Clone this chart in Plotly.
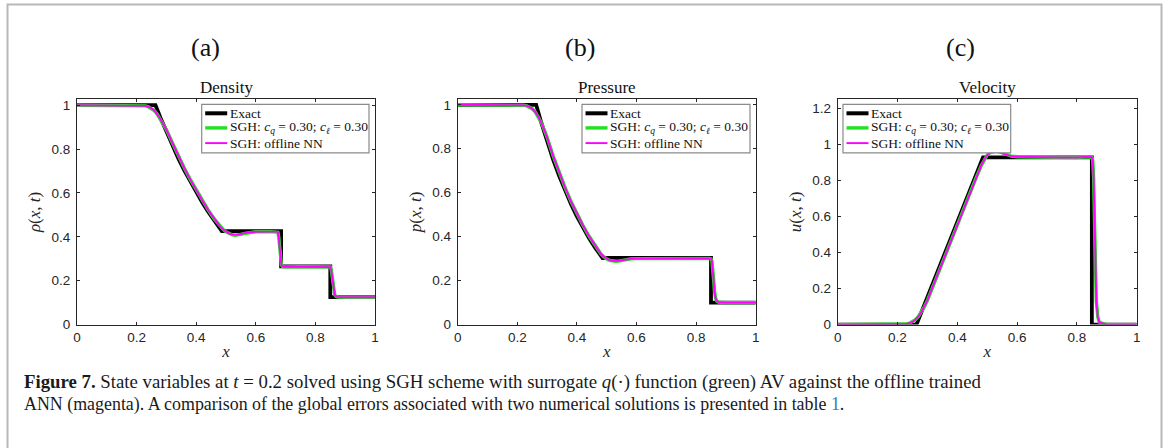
import plotly.graph_objects as go

W, H = 1170, 448

# ---------------- data ----------------
# Exact Riemann solution (Sod tube, t = 0.2)
x_exact = [0.0, 0.2634, 0.28, 0.30, 0.32, 0.34, 0.36, 0.38, 0.40, 0.42, 0.44,
           0.46, 0.48, 0.486, 0.685, 0.685, 0.850, 0.850, 1.0]
rho_exact = [1.0, 1.0, 0.9428, 0.8774, 0.8158, 0.7577, 0.7030, 0.6514, 0.6029,
             0.5574, 0.5146, 0.4746, 0.4370, 0.4263, 0.4263, 0.2656, 0.2656,
             0.125, 0.125]
p_exact = [1.0, 1.0, 0.9208, 0.8327, 0.7521, 0.6781, 0.6105, 0.5488, 0.4925,
           0.4412, 0.3945, 0.3522, 0.3138, 0.3031, 0.3031, 0.3031, 0.3031,
           0.1, 0.1]
u_exact = [0.0, 0.0, 0.0692, 0.1526, 0.2360, 0.3193, 0.4027, 0.4860, 0.5693,
           0.6527, 0.7360, 0.8193, 0.9027, 0.9275, 0.9275, 0.9275, 0.9275,
           0.0, 0.0]

# Numerical solutions on the SGH mesh
x_num = [0.0, 0.10, 0.20, 0.21, 0.22, 0.23, 0.24, 0.25, 0.26, 0.27, 0.28, 0.29,
         0.30, 0.32, 0.34, 0.36, 0.38, 0.40, 0.42, 0.44, 0.46, 0.48, 0.49, 0.50,
         0.51, 0.52, 0.53, 0.54, 0.55, 0.56, 0.58, 0.60, 0.65, 0.670, 0.674,
         0.677, 0.680, 0.683, 0.686, 0.690, 0.70, 0.75, 0.80, 0.835, 0.845,
         0.850, 0.853, 0.856, 0.859, 0.862, 0.865, 0.870, 0.875, 0.90, 1.0]

rho_sgh = [1.000, 1.000, 1.000, 0.999, 0.999, 0.997, 0.993, 0.986, 0.975, 0.958,
           0.937, 0.913, 0.888, 0.829, 0.770, 0.714, 0.662, 0.613, 0.567, 0.523,
           0.483, 0.447, 0.434, 0.423, 0.415, 0.410, 0.407, 0.408, 0.411, 0.415,
           0.420, 0.423, 0.424, 0.424, 0.421, 0.400, 0.352, 0.300, 0.272, 0.264,
           0.263, 0.264, 0.264, 0.265, 0.265, 0.263, 0.252, 0.220, 0.180, 0.149,
           0.136, 0.128, 0.126, 0.125, 0.125]
rho_nn = [1.000, 1.000, 1.000, 0.999, 0.999, 0.997, 0.993, 0.986, 0.975, 0.958,
          0.937, 0.913, 0.888, 0.829, 0.770, 0.714, 0.662, 0.613, 0.567, 0.523,
          0.483, 0.447, 0.434, 0.424, 0.416, 0.411, 0.409, 0.410, 0.413, 0.417,
          0.421, 0.423, 0.424, 0.424, 0.420, 0.398, 0.350, 0.298, 0.271, 0.264,
          0.263, 0.264, 0.264, 0.265, 0.265, 0.262, 0.250, 0.218, 0.178, 0.148,
          0.135, 0.128, 0.126, 0.125, 0.125]

p_sgh = [1.000, 1.000, 1.000, 0.999, 0.998, 0.996, 0.991, 0.982, 0.968, 0.947,
         0.921, 0.887, 0.852, 0.769, 0.693, 0.624, 0.561, 0.504, 0.452, 0.404,
         0.361, 0.323, 0.309, 0.298, 0.292, 0.289, 0.288, 0.289, 0.292, 0.295,
         0.299, 0.300, 0.301, 0.301, 0.301, 0.301, 0.301, 0.301, 0.301, 0.301,
         0.301, 0.301, 0.301, 0.301, 0.301, 0.299, 0.291, 0.258, 0.203, 0.152,
         0.122, 0.106, 0.102, 0.100, 0.100]
p_nn = [1.000, 1.000, 1.000, 0.999, 0.998, 0.996, 0.991, 0.982, 0.968, 0.947,
        0.921, 0.887, 0.852, 0.769, 0.693, 0.624, 0.561, 0.504, 0.452, 0.404,
        0.361, 0.323, 0.309, 0.299, 0.293, 0.290, 0.289, 0.290, 0.293, 0.296,
        0.299, 0.300, 0.301, 0.301, 0.301, 0.301, 0.301, 0.301, 0.301, 0.301,
        0.301, 0.301, 0.301, 0.301, 0.301, 0.299, 0.290, 0.255, 0.200, 0.150,
        0.121, 0.106, 0.102, 0.100, 0.100]

u_sgh = [0.000, 0.000, 0.000, 0.001, 0.002, 0.004, 0.008, 0.015, 0.027, 0.045,
         0.070, 0.100, 0.134, 0.219, 0.303, 0.386, 0.469, 0.553, 0.636, 0.719,
         0.803, 0.882, 0.916, 0.941, 0.955, 0.961, 0.962, 0.959, 0.952, 0.945,
         0.935, 0.931, 0.929, 0.928, 0.928, 0.928, 0.928, 0.928, 0.928, 0.928,
         0.928, 0.927, 0.927, 0.931, 0.931, 0.928, 0.912, 0.815, 0.570, 0.300,
         0.130, 0.042, 0.013, 0.000, 0.000]
u_nn = [0.000, 0.000, 0.000, 0.001, 0.002, 0.004, 0.008, 0.015, 0.027, 0.045,
        0.070, 0.100, 0.134, 0.219, 0.303, 0.386, 0.469, 0.553, 0.636, 0.719,
        0.803, 0.882, 0.916, 0.940, 0.954, 0.960, 0.961, 0.958, 0.951, 0.944,
        0.935, 0.931, 0.929, 0.928, 0.928, 0.928, 0.928, 0.928, 0.928, 0.928,
        0.928, 0.927, 0.927, 0.931, 0.931, 0.928, 0.910, 0.810, 0.560, 0.290,
        0.125, 0.040, 0.012, 0.000, 0.000]

series_names = ["Exact",
                "SGH: <i>c</i><sub><i>q</i></sub> = 0.30; <i>c</i><sub><i>ℓ</i></sub> = 0.30",
                "SGH: offline NN"]
panel_letters = ["(a)", "(b)", "(c)"]
panel_titles = ["Density", "Pressure", "Velocity"]
y_titles = ["<i>ρ</i>(<i>x</i>, <i>t</i>)", "<i>p</i>(<i>x</i>, <i>t</i>)",
            "<i>u</i>(<i>x</i>, <i>t</i>)"]
x_ticks = [0, 0.2, 0.4, 0.6, 0.8, 1.0]
x_ticklabels = ["0", "0.2", "0.4", "0.6", "0.8", "1"]
y_ticks_ab = [0, 0.2, 0.4, 0.6, 0.8, 1.0]
y_ticklabels_ab = ["0", "0.2", "0.4", "0.6", "0.8", "1"]
y_ticks_c = [0, 0.2, 0.4, 0.6, 0.8, 1.0, 1.2]
y_ticklabels_c = ["0", "0.2", "0.4", "0.6", "0.8", "1", "1.2"]

caption_lines = [
    "<b>Figure 7.</b> State variables at <i>t</i> = 0.2 solved using SGH scheme with "
    "surrogate <i>q</i>(·) function (green) AV against the offline trained",
    "ANN (magenta). A comparison of the global errors associated with two numerical "
    "solutions is presented in table <span style='color:#2f7fc1'>1</span>.",
]

# ---------------- styling ----------------
C_EXACT, C_SGH, C_NN = "#000000", "#22e022", "#ff00ff"
W_EXACT, W_SGH, W_NN = 3.8, 3.4, 1.9
SERIF = "Liberation Serif"
SANS = "Liberation Sans"
AX_COL = "#262626"


def fx(px):
    return px / W


def fy(py):
    return 1 - py / H


# pixel boxes of the three axes (left, right)
ax_lr = [(77, 375), (457.7, 755.7), (837.7, 1136.7)]
ax_top, ax_bot = 99.3, 324.6
y_ranges = [[0, 1.027], [0, 1.025], [0, 1.25]]
legend_boxes = [(201.7, 369.0), (582.0, 750.0), (843.0, 1010.7)]
letter_x = [205, 580, 960]

data_sets = [
    (rho_exact, rho_sgh, rho_nn),
    (p_exact, p_sgh, p_nn),
    (u_exact, u_sgh, u_nn),
]

fig = go.Figure()
layout = dict(
    width=W, height=H,
    margin=dict(l=0, r=0, t=0, b=0),
    paper_bgcolor="white", plot_bgcolor="white",
    showlegend=False,
    shapes=[], annotations=[],
)

for i in range(3):
    sfx = "" if i == 0 else str(i + 1)
    xa, ya = "x" + sfx, "y" + sfx
    ex, sg, nn = data_sets[i]
    fig.add_trace(go.Scatter(x=x_exact, y=ex, mode="lines", name=series_names[0],
                             line=dict(color=C_EXACT, width=W_EXACT),
                             xaxis=xa, yaxis=ya))
    fig.add_trace(go.Scatter(x=x_num, y=sg, mode="lines", name=series_names[1],
                             line=dict(color=C_SGH, width=W_SGH),
                             xaxis=xa, yaxis=ya))
    fig.add_trace(go.Scatter(x=x_num, y=nn, mode="lines", name=series_names[2],
                             line=dict(color=C_NN, width=W_NN),
                             xaxis=xa, yaxis=ya))

    l, r = ax_lr[i]
    common = dict(
        showline=True, linecolor=AX_COL, linewidth=1, mirror="allticks",
        ticks="inside", ticklen=3, tickwidth=1, tickcolor=AX_COL,
        showgrid=False, zeroline=False,
        tickfont=dict(family=SANS, size=13.5, color=AX_COL),
        automargin=False,
    )
    layout["xaxis" + sfx] = dict(
        common, domain=[fx(l), fx(r)], range=[0, 1], anchor=ya,
        tickvals=x_ticks, ticktext=x_ticklabels, ticklabelstandoff=0,
        title=dict(text="<i>x</i>", font=dict(family=SERIF, size=17, color=AX_COL),
                   standoff=1),
    )
    yt = y_ticks_c if i == 2 else y_ticks_ab
    ytl = y_ticklabels_c if i == 2 else y_ticklabels_ab
    layout["yaxis" + sfx] = dict(
        common, domain=[fy(ax_bot), fy(ax_top)], range=y_ranges[i], anchor=xa,
        tickvals=yt, ticktext=ytl, ticklabelstandoff=3,
        title=dict(text=y_titles[i], font=dict(family=SERIF, size=17, color=AX_COL),
                   standoff=6),
    )

    # panel title and letter
    layout["annotations"].append(dict(
        text=panel_titles[i], x=fx((l + r) / 2), y=fy(87), xref="paper", yref="paper",
        showarrow=False, xanchor="center", yanchor="middle",
        font=dict(family=SERIF, size=17, color="#111111")))
    layout["annotations"].append(dict(
        text=panel_letters[i], x=fx(letter_x[i]), y=fy(48), xref="paper", yref="paper",
        showarrow=False, xanchor="center", yanchor="middle",
        font=dict(family=SERIF, size=26, color="#111111")))

    # legend box
    bl, br = legend_boxes[i]
    bt, bb = 104.3, 152.8
    layout["shapes"].append(dict(
        type="rect", xref="paper", yref="paper",
        x0=fx(bl), x1=fx(br), y0=fy(bb), y1=fy(bt),
        line=dict(color="#8a8a8a", width=1.2), fillcolor="white", layer="above"))
    entry_y = [bt + 9.0, bt + 23.6, bt + 38.8]
    colors = [C_EXACT, C_SGH, C_NN]
    widths = [4.0, 3.4, 1.9]
    for k in range(3):
        layout["shapes"].append(dict(
            type="line", xref="paper", yref="paper",
            x0=fx(bl + 3.5), x1=fx(bl + 25.5), y0=fy(entry_y[k]), y1=fy(entry_y[k]),
            line=dict(color=colors[k], width=widths[k]), layer="above"))
        layout["annotations"].append(dict(
            text=series_names[k], x=fx(bl + 26.0), y=fy(entry_y[k]),
            xref="paper", yref="paper", showarrow=False,
            xanchor="left", yanchor="middle",
            font=dict(family=SERIF, size=13.5, color="#111111")))

# outer frame of the figure block
layout["shapes"].append(dict(
    type="rect", xref="paper", yref="paper",
    x0=fx(7.5), x1=fx(1161.5), y0=fy(470), y1=fy(4.5),
    line=dict(color="#b8b8b8", width=2), fillcolor="rgba(0,0,0,0)", layer="below"))

# caption, one annotation per line
caption_y = [382, 404]
caption_size = [18.8, 17.9]
for line, cy, cs in zip(caption_lines, caption_y, caption_size):
    layout["annotations"].append(dict(
        text=line, x=fx(22), y=fy(cy), xref="paper", yref="paper",
        showarrow=False, xanchor="left", yanchor="middle", align="left",
        font=dict(family=SERIF, size=cs, color="#1a1a1a")))

fig.update_layout(**layout)
fig.write_html("out.html")
